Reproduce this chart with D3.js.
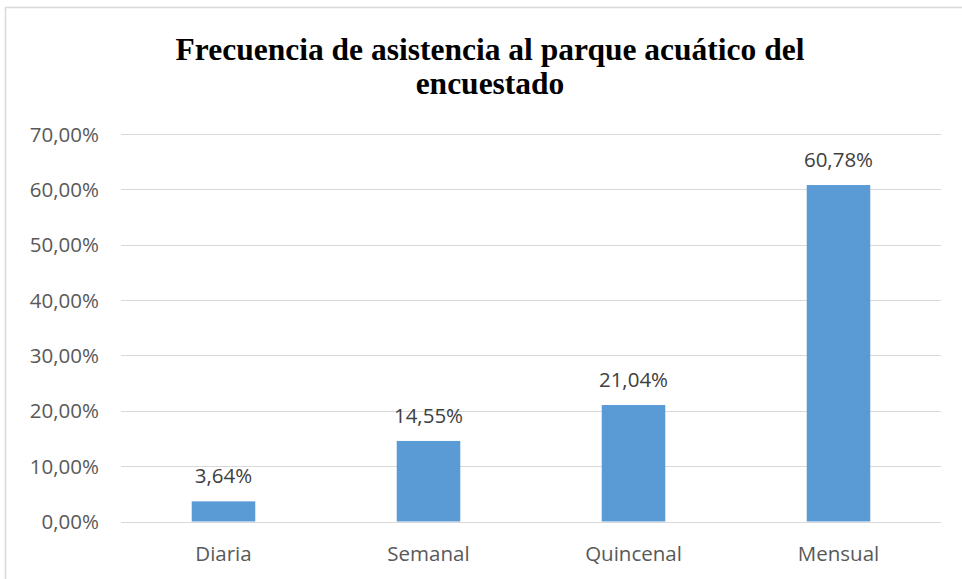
<!DOCTYPE html>
<html>
<head>
<meta charset="utf-8">
<script src="https://cdn.jsdelivr.net/npm/d3@7"></script>
<style>
  body { margin: 0; background: #fff; }
  svg { display: block; }
</style>
</head>
<body>
<svg width="962" height="579"></svg>
<script>
var categories = ["Diaria", "Semanal", "Quincenal", "Mensual"];
var values = [3.64, 14.55, 21.04, 60.78];
var yTicks = [0, 10, 20, 30, 40, 50, 60, 70];
var titleLines = ["Frecuencia de asistencia al parque acuático del", "encuestado"];

var svg = d3.select("svg");
var margin = {left: 121, right: 21, top: 134, bottom: 57};
var width = +svg.attr("width"), height = +svg.attr("height");

// chart frame
svg.append("rect")
  .attr("x", 5.5).attr("y", 7.5)
  .attr("width", 962).attr("height", 600)
  .attr("fill", "#fff")
  .attr("stroke", "#d9d9d9")
  .attr("stroke-width", 1.5);

var x = d3.scaleBand()
  .domain(categories)
  .range([margin.left, width - margin.right])
  .paddingInner(0.69).paddingOuter(0.345);

var y = d3.scaleLinear()
  .domain([0, 70])
  .range([height - margin.bottom - 0.5, margin.top]);

var fmt = function(v) { return v.toFixed(2).replace(".", ",") + "%"; };
var labelFont = "'Open Sans', sans-serif";

// gridlines
svg.append("g")
  .selectAll("line")
  .data(yTicks)
  .enter().append("line")
  .attr("x1", margin.left).attr("x2", width - margin.right)
  .attr("y1", function(d) { return Math.round(y(d)) + 0.5; })
  .attr("y2", function(d) { return Math.round(y(d)) + 0.5; })
  .attr("stroke", "#d9d9d9")
  .attr("stroke-width", 1);

// y tick labels
svg.append("g")
  .selectAll("text")
  .data(yTicks)
  .enter().append("text")
  .attr("x", 99)
  .attr("y", function(d) { return y(d) + 7.5; })
  .attr("text-anchor", "end")
  .style("font-family", labelFont)
  .style("font-size", "20.5px")
  .style("fill", "#595959")
  .text(function(d) { return fmt(d); });

// bars
svg.append("g")
  .selectAll("rect")
  .data(values)
  .enter().append("rect")
  .attr("x", function(d, i) { return x(categories[i]); })
  .attr("y", function(d) { return y(d); })
  .attr("width", x.bandwidth())
  .attr("height", function(d) { return y(0) - y(d); })
  .attr("fill", "#5b9bd5");

// value labels
svg.append("g")
  .selectAll("text")
  .data(values)
  .enter().append("text")
  .attr("x", function(d, i) { return x(categories[i]) + x.bandwidth() / 2; })
  .attr("y", function(d) { return y(d) - 18; })
  .attr("text-anchor", "middle")
  .style("font-family", labelFont)
  .style("font-size", "20.5px")
  .style("fill", "#404040")
  .text(function(d) { return fmt(d); });

// category labels
svg.append("g")
  .selectAll("text")
  .data(categories)
  .enter().append("text")
  .attr("x", function(d) { return x(d) + x.bandwidth() / 2; })
  .attr("y", 561)
  .attr("text-anchor", "middle")
  .style("font-family", labelFont)
  .style("font-size", "20.5px")
  .style("fill", "#595959")
  .text(function(d) { return d; });

// title
svg.append("g")
  .selectAll("text")
  .data(titleLines)
  .enter().append("text")
  .attr("x", 490)
  .attr("y", function(d, i) { return 60 + i * 34; })
  .attr("text-anchor", "middle")
  .style("font-family", "'Liberation Serif', 'Times New Roman', serif")
  .style("font-weight", "bold")
  .style("font-size", "31.5px")
  .style("fill", "#000")
  .text(function(d) { return d; });
</script>
</body>
</html>
